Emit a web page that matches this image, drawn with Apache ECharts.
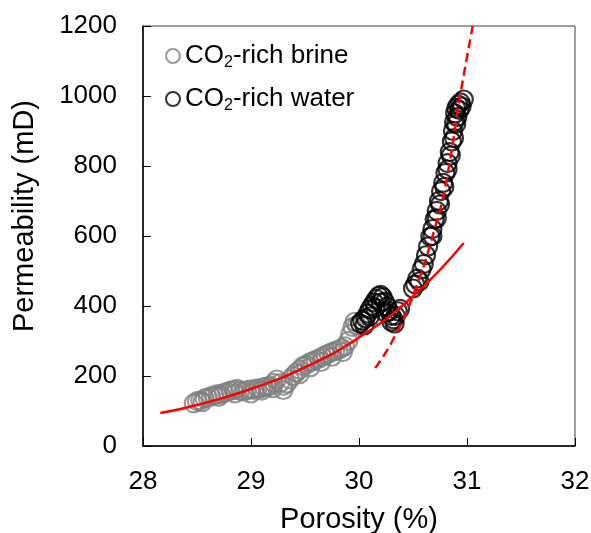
<!DOCTYPE html>
<html>
<head>
<meta charset="utf-8">
<script src="https://cdn.jsdelivr.net/npm/echarts@6/dist/echarts.min.js"></script>
<style>
  html, body { margin: 0; padding: 0; background: #fff; }
  #chart { width: 591px; height: 533px; }
</style>
</head>
<body>
<div id="chart"></div>
<script>
// Porosity (%) vs permeability (mD) measurements
const brinePorosity = [28.47, 28.50, 28.53, 28.57, 28.60, 28.63, 28.66, 28.69, 28.72, 28.75,
  28.78, 28.81, 28.84, 28.87, 28.90, 28.93, 28.96, 29.00, 29.03, 29.06,
  29.09, 29.12, 29.15, 29.18, 29.21, 29.24, 29.27, 29.30, 29.33, 29.36,
  29.39, 29.42, 29.45, 29.48, 29.51, 29.54, 29.57, 29.60, 29.63, 29.66,
  29.69, 29.72, 29.75, 29.78, 29.81, 29.84, 29.87, 29.90, 29.92, 29.94, 29.96, 29.98,
  28.55, 28.70, 28.85, 29.00, 29.10, 29.20, 29.30, 29.45, 29.55, 29.65, 29.75, 29.85];
const brinePerm = [122, 128, 130, 136, 138, 142, 145, 148, 147, 152,
  155, 158, 160, 163, 158, 155, 160, 162, 160, 165,
  164, 168, 170, 172, 180, 190, 180, 172, 178, 190,
  200, 210, 218, 228, 232, 238, 242, 246, 250, 255,
  260, 264, 268, 272, 275, 280, 285, 300, 320, 340, 355, 345,
  125, 140, 150, 150, 158, 165, 160, 205, 225, 240, 255, 268];

const waterPorosity = [30.01, 30.03, 30.06, 30.08, 30.10, 30.12, 30.14, 30.16, 30.18, 30.20,
  30.22, 30.24, 30.26, 30.28, 30.30, 30.32, 30.34, 30.36, 30.38,
  30.05, 30.10, 30.15, 30.20, 30.25, 30.30, 30.33,
  30.50, 30.52, 30.54, 30.56, 30.58, 30.60, 30.62, 30.64, 30.66, 30.68,
  30.70, 30.72, 30.74, 30.76, 30.78, 30.80, 30.82, 30.84, 30.86, 30.87,
  30.88, 30.89, 30.90, 30.92, 30.94, 30.97,
  30.68, 30.72, 30.75, 30.79, 30.82, 30.85, 30.88, 30.90, 30.91, 30.93, 30.95];
const waterPerm = [350, 358, 365, 378, 390, 400, 410, 420, 428, 432,
  425, 412, 398, 385, 372, 362, 372, 385, 392,
  345, 370, 395, 410, 380, 355, 350,
  450, 462, 478, 470, 505, 520, 545, 570, 598, 620,
  648, 672, 700, 728, 752, 780, 808, 840, 870, 900,
  925, 950, 965, 975, 982, 990,
  600, 650, 690, 740, 790, 830, 880, 920, 940, 960, 970];

// Fitted trend curves, sampled along each curve
const fitAllPorosity = [28.16, 28.5, 29.0, 29.5, 30.0, 30.5, 30.97];
const fitAllPerm = [94, 117, 163, 225, 310, 428, 580];
const fitWaterPorosity = [30.15, 30.3, 30.5, 30.7, 30.81, 30.935, 31.053];
const fitWaterPerm = [223, 295, 429, 620, 760, 998, 1200];

const xTicks = [28, 29, 30, 31, 32];
const yTicks = [0, 200, 400, 600, 800, 1000, 1200];

const FONT = "'Liberation Sans', Arial, sans-serif";
const zip = (xs, ys) => xs.map((x, i) => [x, ys[i]]);

const chart = echarts.init(document.getElementById('chart'));
chart.setOption({
  animation: false,
  backgroundColor: '#fff',
  grid: {
    left: 143, right: 16, top: 26, bottom: 87,
    containLabel: false, outerBoundsMode: 'none',
    show: true, borderColor: '#404040', borderWidth: 1
  },
  legend: {
    orient: 'vertical',
    left: 160, top: 38,
    itemWidth: 14, itemHeight: 14, itemGap: 15,
    icon: 'circle',
    data: [
      { name: 'CO2-rich brine', itemStyle: { color: 'transparent', borderColor: '#7f7f7f', borderWidth: 2 } },
      { name: 'CO2-rich water', itemStyle: { color: 'transparent', borderColor: '#000', borderWidth: 2 } }
    ],
    formatter: name => '{n|CO}{s|2}{n|' + name.slice(3) + '}',
    textStyle: {
      fontFamily: FONT,
      rich: {
        n: { fontSize: 26, lineHeight: 30, color: '#000', fontFamily: FONT },
        s: { fontSize: 16, lineHeight: 30, color: '#000', fontFamily: FONT, verticalAlign: 'bottom', padding: [10, 0, 0, 0] }
      }
    }
  },
  xAxis: {
    type: 'value', min: xTicks[0], max: xTicks[xTicks.length - 1], interval: 1,
    name: 'Porosity (%)', nameLocation: 'middle', nameGap: 59,
    nameTextStyle: { fontFamily: FONT, fontSize: 29, color: '#000' },
    axisLine: { onZero: false, lineStyle: { color: '#000', width: 1.5 } },
    axisTick: { inside: true, length: 8, lineStyle: { color: '#000', width: 1 } },
    axisLabel: { margin: 23, fontFamily: FONT, fontSize: 26, color: '#000' },
    splitLine: { show: false }
  },
  yAxis: {
    type: 'value', min: yTicks[0], max: yTicks[yTicks.length - 1], interval: 200,
    name: 'Permeability (mD)', nameLocation: 'middle', nameGap: 104, nameRotate: 90,
    nameTextStyle: { fontFamily: FONT, fontSize: 29, color: '#000', padding: [0, 0, 0, 40] },
    axisLine: { onZero: false, lineStyle: { color: '#000', width: 1.5 } },
    axisTick: { inside: true, length: 8, lineStyle: { color: '#000', width: 1 } },
    axisLabel: { margin: 26, fontFamily: FONT, fontSize: 26, color: '#000', formatter: v => String(v) },
    splitLine: { show: false }
  },
  series: [
    {
      name: 'CO2-rich brine', type: 'scatter', symbol: 'circle', symbolSize: 18,
      data: zip(brinePorosity, brinePerm),
      itemStyle: { color: 'transparent', borderColor: '#7f7f7f', borderWidth: 2.2 },
      z: 2
    },
    {
      name: 'CO2-rich water', type: 'scatter', symbol: 'circle', symbolSize: 18,
      data: zip(waterPorosity, waterPerm),
      itemStyle: { color: 'transparent', borderColor: '#000', borderWidth: 2.2 },
      z: 3
    },
    {
      name: 'fit-all', type: 'line', showSymbol: false, smooth: true,
      data: zip(fitAllPorosity, fitAllPerm),
      lineStyle: { color: '#ff0000', width: 2.5 },
      z: 4
    },
    {
      name: 'fit-water', type: 'line', showSymbol: false, smooth: true,
      data: zip(fitWaterPorosity, fitWaterPerm),
      lineStyle: { color: '#ff0000', width: 2.5, type: [9, 5] },
      z: 4
    }
  ]
});
</script>
</body>
</html>
